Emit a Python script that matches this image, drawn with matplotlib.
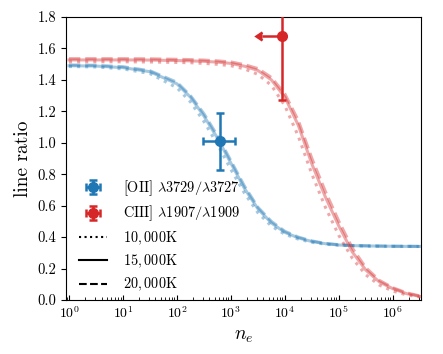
import matplotlib
matplotlib.use("Agg")
import matplotlib.pyplot as plt
from matplotlib.lines import Line2D
from matplotlib.ticker import LogLocator, NullFormatter
import numpy as np

plt.rcParams['font.family'] = 'serif'
plt.rcParams['font.serif'] = ['cmr10']
plt.rcParams['mathtext.fontset'] = 'cm'
plt.rcParams['axes.formatter.use_mathtext'] = True

# log10 of electron density grid
log_ne = [0, 0.5, 1, 1.5, 2, 2.25, 2.5, 2.75, 3, 3.25, 3.5, 3.75, 4, 4.25,
          4.5, 4.75, 5, 5.25, 5.5, 5.75, 6, 6.25, 6.5]

# [OII] 3729/3727 ratio
oii_10k = [1.485, 1.482, 1.470, 1.440, 1.35, 1.26, 1.135, 0.99, 0.83, 0.68, 0.555, 0.47,
           0.418, 0.387, 0.367, 0.355, 0.348, 0.345, 0.343, 0.342, 0.341, 0.341, 0.340]
oii_15k = [1.490, 1.488, 1.478, 1.452, 1.375, 1.29, 1.17, 1.03, 0.87, 0.71, 0.58, 0.49,
           0.43, 0.395, 0.372, 0.358, 0.350, 0.346, 0.344, 0.343, 0.342, 0.341, 0.341]
oii_20k = [1.495, 1.493, 1.484, 1.458, 1.385, 1.30, 1.185, 1.045, 0.885, 0.725, 0.59, 0.50,
           0.437, 0.400, 0.376, 0.360, 0.352, 0.347, 0.345, 0.343, 0.342, 0.342, 0.341]

# CIII] 1907/1909 ratio
ciii_10k = [1.515, 1.515, 1.515, 1.514, 1.511, 1.509, 1.505, 1.499, 1.49, 1.47, 1.435, 1.365,
            1.235, 1.04, 0.80, 0.59, 0.41, 0.265, 0.16, 0.095, 0.057, 0.033, 0.019]
ciii_15k = [1.527, 1.527, 1.527, 1.526, 1.523, 1.521, 1.518, 1.513, 1.505, 1.487, 1.46, 1.40,
            1.29, 1.11, 0.865, 0.655, 0.47, 0.305, 0.19, 0.115, 0.072, 0.041, 0.023]
ciii_20k = [1.535, 1.535, 1.535, 1.534, 1.531, 1.529, 1.526, 1.521, 1.514, 1.497, 1.472, 1.415,
            1.31, 1.14, 0.90, 0.69, 0.50, 0.33, 0.205, 0.125, 0.078, 0.046, 0.026]

# measurements
oii_ne, oii_ne_lo, oii_ne_hi = 630, 320, 550
oii_ratio, oii_ratio_err = 1.01, 0.18
ciii_ne, ciii_ne_lo = 8900, 5200
ciii_ratio, ciii_ratio_err = 1.68, 0.41

xticks = [1, 10, 100, 1e3, 1e4, 1e5, 1e6]

blue = '#1f77b4'
red = '#d62728'

ne = 10 ** np.array(log_ne)

fig = plt.figure(figsize=(4.43, 3.54), dpi=100)
ax = fig.add_axes([0.149, 0.1525, 0.801, 0.7995])

for vals, ls in [(oii_10k, ':'), (oii_15k, '-'), (oii_20k, '--')]:
    ax.plot(ne, vals, ls=ls, color=blue, alpha=0.4, lw=2.2)
for vals, ls in [(ciii_10k, ':'), (ciii_15k, '-'), (ciii_20k, '--')]:
    ax.plot(ne, vals, ls=ls, color=red, alpha=0.4, lw=2.2)

h1 = ax.errorbar([oii_ne], [oii_ratio], xerr=[[oii_ne_lo], [oii_ne_hi]],
                 yerr=oii_ratio_err, fmt='o', color=blue, ms=7, elinewidth=1.8,
                 capsize=3, capthick=1.8, zorder=5)
h2 = ax.errorbar([ciii_ne], [ciii_ratio], xerr=[[ciii_ne_lo], [ciii_ne_lo]],
                 yerr=ciii_ratio_err, xuplims=True, fmt='o', color=red, ms=7,
                 elinewidth=1.8, capsize=3, capthick=1.8, zorder=5)

ax.set_xscale('log')
ax.set_xlim(0.88, 3.3e6)
ax.set_xticks(xticks)
ax.xaxis.set_minor_locator(LogLocator(base=10, subs=np.arange(2, 10), numticks=20))
ax.xaxis.set_minor_formatter(NullFormatter())
ax.set_ylim(0, 1.8)
ax.set_yticks(np.arange(0, 1.81, 0.2))
ax.set_yticklabels(['%.1f' % v for v in np.arange(0, 1.81, 0.2)])
ax.tick_params(axis='x', which='both', direction='in', labelsize=10)
ax.tick_params(axis='y', direction='out', labelsize=10.5)
ax.set_xlabel(r'$n_e$', fontsize=14)
ax.set_ylabel('line ratio', fontsize=14)

handles = [h1, h2,
           Line2D([], [], color='k', ls=':', lw=1.5),
           Line2D([], [], color='k', ls='-', lw=1.5),
           Line2D([], [], color='k', ls='--', lw=1.5)]
labels = [r'[OII] $\lambda3729/\lambda3727$', r'CIII] $\lambda1907/\lambda1909$',
          r'$10,000$K', r'$15,000$K', r'$20,000$K']
ax.legend(handles, labels, loc='lower left', bbox_to_anchor=(0.0, -0.022),
          frameon=False, fontsize=10.3, handletextpad=1.1, labelspacing=0.42)

fig.savefig('out.png', dpi=100)
